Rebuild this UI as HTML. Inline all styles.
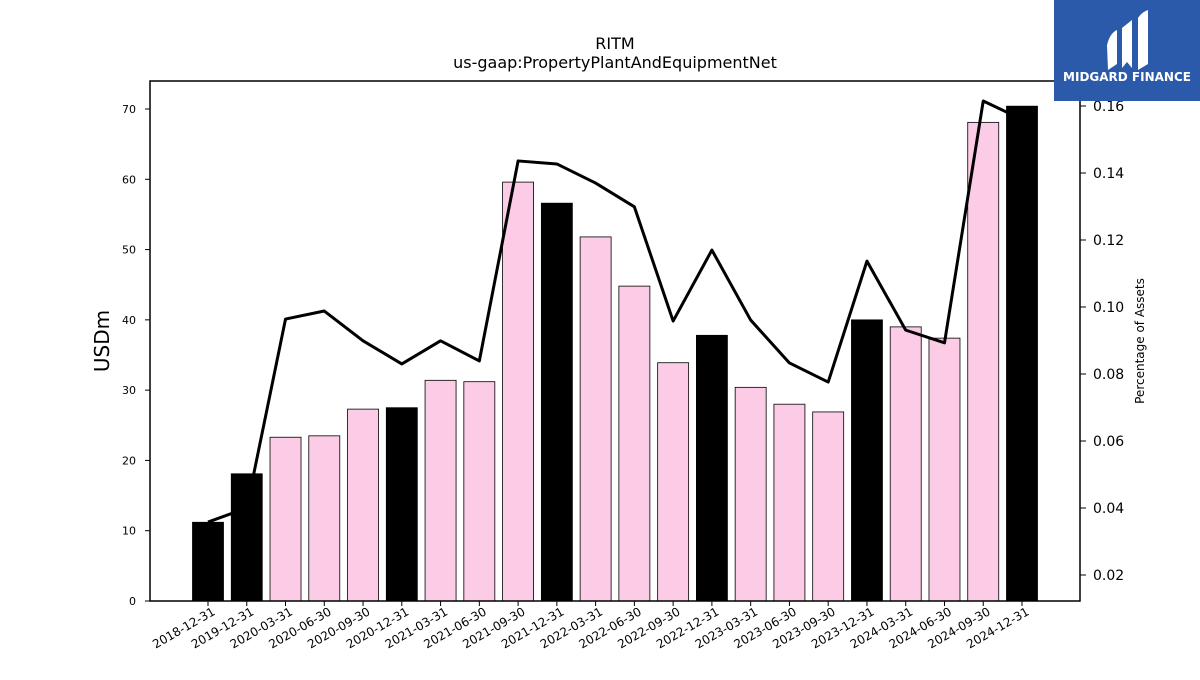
<!DOCTYPE html>
<html><head><meta charset="utf-8"><style>
body{margin:0;background:#fff;font-family:"Liberation Sans","DejaVu Sans",sans-serif;}
svg text{font-family:"DejaVu Sans","Liberation Sans",sans-serif;}
</style></head><body>
<svg id="chart" width="1200" height="675">
<text x="615" y="49" text-anchor="middle" font-size="16">RITM</text>
<text x="615" y="68" text-anchor="middle" font-size="16">us-gaap:PropertyPlantAndEquipmentNet</text>
<g id="bars"></g><g id="line"></g><g id="axes"></g>
<rect x="150" y="81" width="930" height="520" fill="none" stroke="#000" stroke-width="1.5"/>
<text transform="translate(109,341) rotate(-90)" text-anchor="middle" font-size="20">USDm</text>
<text transform="translate(1144,341) rotate(-90)" text-anchor="middle" font-size="12">Percentage of Assets</text>
<g>
<rect x="1054" y="0" width="146" height="101" fill="#2b5aab"/>
<path d="M1107 45 Q1110 33 1117 30 L1117 64 L1108 70 Z" fill="#fff"/>
<path d="M1122 28 L1132 20 L1132 68 L1127 62 L1122 68 Z" fill="#fff"/>
<path d="M1138 18 Q1142 12 1148 10 L1148 64 L1138 70 Z" fill="#fff"/>
<text x="1127" y="81" text-anchor="middle" font-size="12" font-weight="bold" fill="#fff" font-family="Liberation Sans,sans-serif">MIDGARD FINANCE</text>
</g>
</svg>
<script>
const categories=["2018-12-31","2019-12-31","2020-03-31","2020-06-30","2020-09-30","2020-12-31","2021-03-31","2021-06-30","2021-09-30","2021-12-31","2022-03-31","2022-06-30","2022-09-30","2022-12-31","2023-03-31","2023-06-30","2023-09-30","2023-12-31","2024-03-31","2024-06-30","2024-09-30","2024-12-31"];
const usdValues=[11.2,18.1,23.3,23.5,27.3,27.5,31.4,31.2,59.6,56.6,51.8,44.8,33.9,37.8,30.4,28.0,26.9,40.0,39.0,37.4,68.1,70.4];
const pctValues=[0.0358,0.040,0.0964,0.0988,0.0899,0.083,0.0899,0.0839,0.1436,0.1427,0.137,0.1299,0.0958,0.117,0.0961,0.0833,0.0776,0.1137,0.0931,0.0893,0.1615,0.156];
const leftTicks=[0,10,20,30,40,50,60,70];
const rightTicks=[0.02,0.04,0.06,0.08,0.10,0.12,0.14,0.16];
const NS="http://www.w3.org/2000/svg";
const xPos=i=>208+i*(1022-208)/21;
const yL=v=>601-v*(601-109)/70;
const yR=v=>575-(v-0.02)*(575-106)/0.14;
function mk(t,a,p){const e=document.createElementNS(NS,t);for(const k in a)e.setAttribute(k,a[k]);p.appendChild(e);return e;}
const bars=document.getElementById('bars'),axes=document.getElementById('axes'),line=document.getElementById('line');
categories.forEach((c,i)=>{
 const annual=c.endsWith("12-31");
 const r=mk('rect',{x:xPos(i)-15.5,y:yL(usdValues[i]),width:31,height:601-yL(usdValues[i]),fill:annual?'#000':'#fccce6',stroke:'#000','stroke-width':0.8},bars);
 
 
 mk('line',{x1:xPos(i),x2:xPos(i),y1:601,y2:606,stroke:'#000'},axes);
 const t=mk('text',{x:xPos(i)+8,y:614,'font-size':12,'text-anchor':'end',transform:`rotate(-30 ${xPos(i)+8} 614)`},axes);
 t.textContent=c;
 
 
});
const pl=mk('polyline',{points:pctValues.map((v,i)=>xPos(i)+','+yR(v)).join(' '),fill:'none',stroke:'#000','stroke-width':3,'stroke-linejoin':'round'},line);


leftTicks.forEach(v=>{
 mk('line',{x1:145,x2:150,y1:yL(v),y2:yL(v),stroke:'#000'},axes);
 const t=mk('text',{x:136,y:yL(v)+4,'font-size':11,'text-anchor':'end'},axes);t.textContent=v;
 
 
});
rightTicks.forEach(v=>{
 mk('line',{x1:1080,x2:1086,y1:yR(v),y2:yR(v),stroke:'#000'},axes);
 const t=mk('text',{x:1093,y:yR(v)+5,'font-size':14},axes);t.textContent=v.toFixed(2);
 
 
});
</script>
</body></html>
